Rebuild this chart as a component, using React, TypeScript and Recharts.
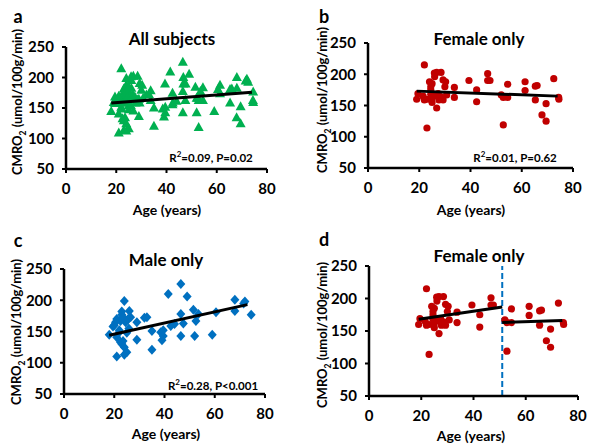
import React from "react";
import {
  ScatterChart, Scatter, XAxis, YAxis, ReferenceLine,
} from "recharts";

// age (years), CMRO2 (umol/100g/min)
const maleAge = [18, 19.5, 20, 20.5, 21, 21, 21, 22, 22, 22.5, 22.5, 23, 23, 23, 23.5, 23.5, 24, 24, 24, 24.5, 25, 25, 25.5, 25.8, 26, 26.5, 29, 29, 32, 33, 35, 35, 38.5, 39, 39.5, 39.5, 41.5, 42.5, 44, 46.5, 46.5, 46.5, 47.5, 49, 51.5, 52, 52.5, 53.5, 59, 60.5, 68, 68, 71.5, 72, 74.5];
const maleVal = [145, 158, 160, 165, 170, 110, 141, 149, 152, 133, 167, 182, 177, 130, 135, 173, 199, 125, 113, 165, 148, 117, 170, 155, 183, 173, 137, 165, 172, 173, 121, 151, 149, 136, 152, 143, 210, 159, 162, 226, 178, 143, 163, 206, 185, 143, 167, 178, 145, 181, 201, 183, 195, 198, 177];

const femaleAge = [19, 19.5, 21.5, 22, 22, 23, 23, 24, 24.5, 24.5, 24.5, 24.8, 25, 25, 25.9, 26, 26.8, 26.8, 26, 27.4, 27.7, 28.5, 28.5, 29.3, 29.3, 30, 30.3, 30.7, 33.7, 33.7, 39.4, 42.4, 42.4, 46.7, 46.7, 47.6, 52, 52.8, 52.8, 54.5, 54.5, 61.3, 61.3, 65.3, 66, 65.3, 67.9, 69.5, 69.5, 72.5, 74.4, 74.5];
const femaleVal = [160, 169, 165, 215, 159, 160, 114, 188, 180, 175, 168, 159, 155, 185, 202, 196, 146, 203, 165, 169, 159, 203, 164, 191, 159, 180, 188, 167, 179, 163, 190, 175, 156, 201, 190, 190, 167, 163, 119, 184, 163, 188, 174, 181, 182, 159, 135, 153, 125, 193, 163, 160];

// fitted lines: [startAge, endAge], [startVal, endVal]
const fitAllAge = [18, 74];
const fitAllVal = [158, 176];
const fitFemaleAge = [19, 74];
const fitFemaleVal = [173, 165];
const fitMaleAge = [18, 73];
const fitMaleVal = [144, 193];
const fitYoungAge = [19, 51];
const fitYoungVal = [168, 187];
const fitOldAge = [51, 74];
const fitOldVal = [163, 166];
const menopauseAge = 51;

const xTicks = [0, 20, 40, 60, 80];
const yTicks = [50, 100, 150, 200, 250];

const zip = (xs: number[], ys: number[]) => xs.map((x, i) => ({ x, y: ys[i] }));

const male = zip(maleAge, maleVal);
const female = zip(femaleAge, femaleVal);
const all = [...male, ...female];
const femaleYoung = female.filter((d) => d.x < menopauseAge);
const femaleOld = female.filter((d) => d.x >= menopauseAge);

const GREEN = "#00b050";
const RED = "#c00000";
const BLUE = "#0070c0";
const FONT = 'Lato, "Open Sans", sans-serif';

const Triangle = (p: any) => (
  <polygon
    points={`${p.cx},${p.cy - 5} ${p.cx - 5},${p.cy + 4} ${p.cx + 5},${p.cy + 4}`}
    fill={GREEN}
  />
);
const Dot = (p: any) => <circle cx={p.cx} cy={p.cy} r={3.6} fill={RED} />;
const Diamond = (p: any) => (
  <polygon
    points={`${p.cx},${p.cy - 5} ${p.cx + 4.5},${p.cy} ${p.cx},${p.cy + 5} ${p.cx - 4.5},${p.cy}`}
    fill={BLUE}
  />
);
const NoShape = () => <g />;

type PanelProps = {
  left: number;
  top: number;
  width: number;
  margin: { top: number; right: number; bottom: number; left: number };
  yWidth: number;
  children: React.ReactNode;
};

function Panel({ left, top, width, margin, yWidth, children }: PanelProps) {
  return (
    <div style={{ position: "absolute", left, top }}>
      <ScatterChart width={width} height={222} margin={margin}>
        <XAxis
          type="number"
          dataKey="x"
          domain={[0, 80]}
          ticks={xTicks}
          height={30}
          axisLine={{ stroke: "#000", strokeWidth: 2.5 }}
          tickLine={{ stroke: "#000", strokeWidth: 2 }}
          tickSize={4}
          tickMargin={10}
          tick={{ fill: "#000", fontSize: 15, fontWeight: 700, fontFamily: FONT }}
        />
        <YAxis
          type="number"
          dataKey="y"
          domain={[50, 250]}
          ticks={yTicks}
          width={yWidth}
          axisLine={{ stroke: "#000", strokeWidth: 2.5 }}
          tickLine={{ stroke: "#000", strokeWidth: 2 }}
          tickSize={4}
          tickMargin={8}
          tick={{ fill: "#000", fontSize: 15, fontWeight: 700, fontFamily: FONT }}
        />
        {children}
      </ScatterChart>
    </div>
  );
}

const fit = (xs: number[], ys: number[], key: string) => (
  <Scatter
    key={key}
    data={zip(xs, ys)}
    line={{ stroke: "#000", strokeWidth: 3 }}
    shape={NoShape}
    isAnimationActive={false}
  />
);

const Label = ({ x, y, size, children }: any) => (
  <div
    style={{
      position: "absolute",
      left: x,
      top: y,
      transform: "translate(-50%, -50%)",
      fontFamily: FONT,
      fontWeight: 700,
      fontSize: size,
      whiteSpace: "nowrap",
      color: "#000",
      lineHeight: 1,
    }}
  >
    {children}
  </div>
);

const YLabel = ({ x, y }: { x: number; y: number }) => (
  <div
    style={{
      position: "absolute",
      left: x,
      top: y,
      transform: "translate(-50%, -50%) rotate(-90deg)",
      fontFamily: FONT,
      fontWeight: 700,
      fontSize: 13,
      whiteSpace: "nowrap",
      lineHeight: 1,
    }}
  >
    CMRO<sub style={{ fontSize: 8.5 }}>2</sub> (umol/100g/min)
  </div>
);

const R2 = ({ r, p }: { r: string; p: string }) => (
  <>
    R<sup style={{ fontSize: 8 }}>2</sup>={r}, {p}
  </>
);

export default function App() {
  return (
    <div
      style={{
        position: "fixed",
        left: 0,
        top: 0,
        width: 589,
        height: 444,
        background: "#fff",
        overflow: "hidden",
      }}
    >
      <Panel left={0} top={0} width={295} yWidth={66} margin={{ top: 47, right: 28, bottom: 23, left: 0 }}>
        <Scatter data={all} shape={Triangle} isAnimationActive={false} />
        {fit(fitAllAge, fitAllVal, "fa")}
      </Panel>
      <Panel left={295} top={0} width={294} yWidth={73} margin={{ top: 43, right: 16, bottom: 24, left: 0 }}>
        <Scatter data={female} shape={Dot} isAnimationActive={false} />
        {fit(fitFemaleAge, fitFemaleVal, "fb")}
      </Panel>
      <Panel left={0} top={222} width={295} yWidth={64} margin={{ top: 47, right: 30, bottom: 20, left: 0 }}>
        <Scatter data={male} shape={Diamond} isAnimationActive={false} />
        {fit(fitMaleAge, fitMaleVal, "fc")}
      </Panel>
      <Panel left={295} top={222} width={294} yWidth={74} margin={{ top: 44, right: 11, bottom: 18, left: 0 }}>
        <Scatter data={femaleYoung} shape={Dot} isAnimationActive={false} />
        <Scatter data={femaleOld} shape={Dot} isAnimationActive={false} />
        <ReferenceLine x={menopauseAge} stroke={BLUE} strokeWidth={2} strokeDasharray="6 3" />
        {fit(fitYoungAge, fitYoungVal, "fd1")}
        {fit(fitOldAge, fitOldVal, "fd2")}
      </Panel>

      <Label x={18} y={16} size={18}>a</Label>
      <Label x={324} y={16} size={18}>b</Label>
      <Label x={18} y={240} size={18}>c</Label>
      <Label x={324} y={239} size={18}>d</Label>

      <Label x={172} y={38} size={17}>All subjects</Label>
      <Label x={479} y={38} size={17}>Female only</Label>
      <Label x={166} y={259} size={17}>Male only</Label>
      <Label x={479} y={255} size={17}>Female only</Label>

      <Label x={211} y={157} size={11.5}><R2 r="0.09" p="P=0.02" /></Label>
      <Label x={515} y={157} size={11.5}><R2 r="0.01" p="P=0.62" /></Label>
      <Label x={213} y={385} size={11.5}><R2 r="0.28" p="P<0.001" /></Label>

      <Label x={167} y={210} size={14}>Age (years)</Label>
      <Label x={471} y={210} size={14}>Age (years)</Label>
      <Label x={166} y={434} size={14}>Age (years)</Label>
      <Label x={471} y={436} size={14}>Age (years)</Label>

      <YLabel x={19} y={102} />
      <YLabel x={324} y={100} />
      <YLabel x={18} y={332} />
      <YLabel x={324} y={335} />
    </div>
  );
}
